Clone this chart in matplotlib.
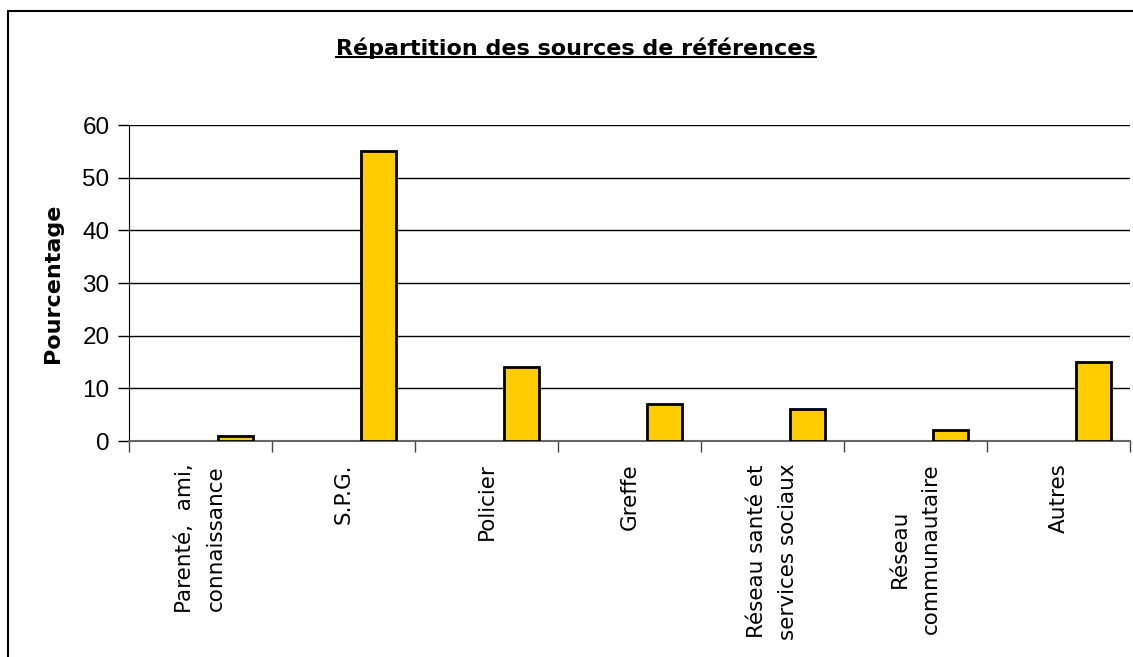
import matplotlib
matplotlib.use("Agg")
import matplotlib.pyplot as plt
import numpy as np
from matplotlib.lines import Line2D
from matplotlib.patches import Rectangle

# Sources de références (%)
categories = ["Parenté,  ami,\nconnaissance", "S.P.G.", "Policier", "Greffe",
              "Réseau santé et\nservices sociaux", "Réseau\ncommunautaire", "Autres"]
values = [1, 55, 14, 7, 6, 2, 15]
yticks = [0, 10, 20, 30, 40, 50, 60]

W, H = 1133, 657
fig = plt.figure(figsize=(W / 100, H / 100), dpi=100)
ax = fig.add_axes([129 / W, 1 - 441 / H, (1130 - 129) / W, (441 - 125) / H])

x = np.arange(len(categories))
ax.bar(x + 0.245, values, width=0.25, color="#FFCC00", edgecolor="black",
       linewidth=2, zorder=3)

ax.set_xlim(-0.5, len(categories) - 0.5)
ax.set_ylim(0, 60)
ax.set_yticks(yticks)
ax.set_yticklabels([str(v) for v in yticks], fontsize=17.5, family="Liberation Sans")
ax.yaxis.grid(True, color="black", linewidth=1, zorder=0)
ax.tick_params(axis="y", length=8, width=1, color="black", pad=6)

ax.set_xticks(x)
ax.set_xticklabels(categories, rotation=90, fontsize=15.5, family="DejaVu Sans",
                   linespacing=1.7, va="top", ha="center")
ax.set_xticks(np.arange(len(categories) + 1) - 0.5, minor=True)
ax.tick_params(axis="x", which="major", length=0, pad=16)
ax.tick_params(axis="x", which="minor", length=8, width=1, color="#444444")

for side in ["top", "right"]:
    ax.spines[side].set_visible(False)
ax.spines["left"].set_color("black")
ax.spines["bottom"].set_color("#666666")
ax.spines["bottom"].set_linewidth(1.5)

ax.set_ylabel("Pourcentage", fontsize=16, fontweight="bold", family="DejaVu Sans",
              labelpad=14)

title = fig.text(576 / W, 1 - 48 / H, "Répartition des sources de références",
                 ha="center", va="center", fontsize=16, fontweight="bold",
                 family="DejaVu Sans")

# underline for the title
fig.canvas.draw()
bb = title.get_window_extent().transformed(fig.transFigure.inverted())
uy = bb.y0 + 1.5 / H
fig.add_artist(Line2D([bb.x0, bb.x1], [uy, uy], color="black", linewidth=1.5,
                      transform=fig.transFigure))

# chart area border
fig.add_artist(Rectangle((8 / W, -0.05), 1.1, 1 - 11 / H + 0.05, fill=False,
                         edgecolor="black", linewidth=1.5, transform=fig.transFigure))

fig.savefig("out.png", dpi=100)
